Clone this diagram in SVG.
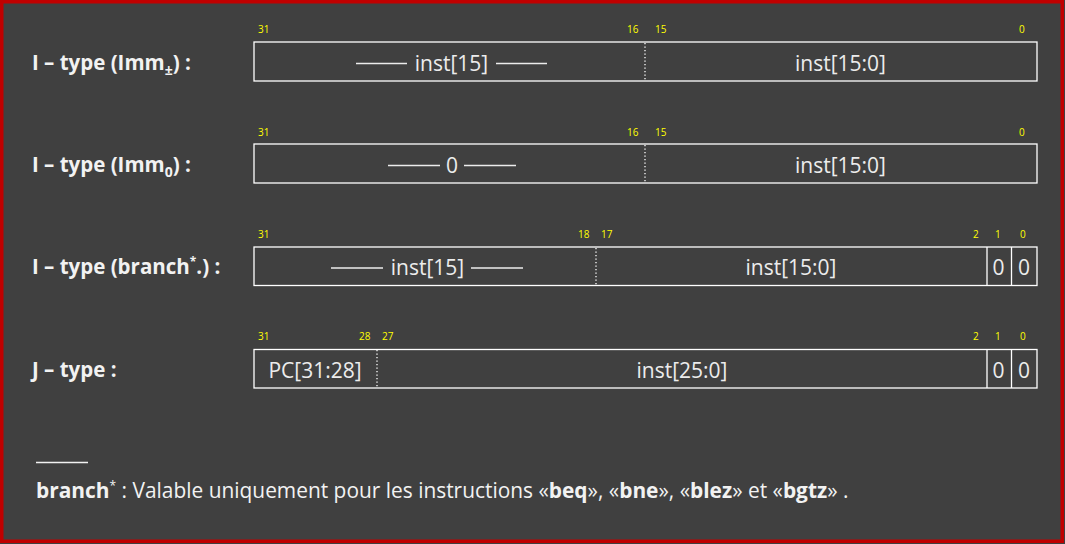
<svg xmlns="http://www.w3.org/2000/svg" width="1065" height="544" viewBox="0 0 1065 544">
<style>
.lbl{font-family:"Open Sans","Liberation Sans",sans-serif;font-weight:bold;font-size:20.5px;fill:#f2f2f2}
.bit{font-family:"Open Sans","Liberation Sans",sans-serif;font-size:10px;fill:#ffff00}
.fld{font-family:"Open Sans","Liberation Sans",sans-serif;font-size:21px;fill:#ececec;text-anchor:middle}
.box{fill:none;stroke:#ffffff;stroke-width:1.3}
.sep{stroke:#ffffff;stroke-width:1.3}
.dot{stroke:#ffffff;stroke-width:1.3;stroke-dasharray:1.3 2.2}
.dash{stroke:#ececec;stroke-width:1.3}
.note{font-family:"Open Sans","Liberation Sans",sans-serif;font-size:20.9px;fill:#f2f2f2}
</style>
<rect x="0" y="0" width="1065" height="544" fill="#404040"/>
<rect x="1.75" y="1.75" width="1060.5" height="539.5" fill="none" stroke="#c00000" stroke-width="3.5"/>

<g id="row-imm-signed">
  <text class="lbl" x="32" y="70">I – type (Imm<tspan font-size="14" dy="5">±</tspan><tspan dy="-5">) :</tspan></text>
  <text class="bit" x="258" y="33">31</text>
  <text class="bit" x="627" y="33">16</text>
  <text class="bit" x="655" y="33">15</text>
  <text class="bit" x="1019" y="33">0</text>
  <rect class="box" x="254" y="42" width="783" height="39"/>
  <line class="dot" x1="645" y1="43" x2="645" y2="81"/>
  <line class="dash" x1="356" y1="63.5" x2="407" y2="63.5"/>
  <text class="fld" x="451.5" y="70.5">inst[15]</text>
  <line class="dash" x1="496" y1="63.5" x2="547" y2="63.5"/>
  <text class="fld" x="840.5" y="70.5">inst[15:0]</text>
</g>

<g id="row-imm-zero">
  <text class="lbl" x="32" y="172">I – type (Imm<tspan font-size="14" dy="5">0</tspan><tspan dy="-5">) :</tspan></text>
  <text class="bit" x="258" y="135.5">31</text>
  <text class="bit" x="627" y="135.5">16</text>
  <text class="bit" x="655" y="135.5">15</text>
  <text class="bit" x="1019" y="135.5">0</text>
  <rect class="box" x="254" y="144" width="783" height="39"/>
  <line class="dot" x1="645" y1="145" x2="645" y2="183"/>
  <line class="dash" x1="388" y1="165.5" x2="440" y2="165.5"/>
  <text class="fld" x="452" y="172.5">0</text>
  <line class="dash" x1="464" y1="165.5" x2="516" y2="165.5"/>
  <text class="fld" x="840.5" y="172.5">inst[15:0]</text>
</g>

<g id="row-branch">
  <text class="lbl" x="32" y="274">I – type (branch<tspan font-size="12" dy="-8">*</tspan><tspan dy="8">.) :</tspan></text>
  <text class="bit" x="258" y="237.5">31</text>
  <text class="bit" x="578" y="237.5">18</text>
  <text class="bit" x="601" y="237.5">17</text>
  <text class="bit" x="973" y="237.5">2</text>
  <text class="bit" x="995" y="237.5">1</text>
  <text class="bit" x="1020" y="237.5">0</text>
  <rect class="box" x="254" y="247" width="783" height="38.5"/>
  <line class="dot" x1="596" y1="248" x2="596" y2="285"/>
  <line class="sep" x1="987" y1="247" x2="987" y2="285.5"/>
  <line class="sep" x1="1011.5" y1="247" x2="1011.5" y2="285.5"/>
  <line class="dash" x1="331" y1="268" x2="383" y2="268"/>
  <text class="fld" x="427.5" y="275">inst[15]</text>
  <line class="dash" x1="471" y1="268" x2="523" y2="268"/>
  <text class="fld" x="791" y="275">inst[15:0]</text>
  <text class="fld" x="998.5" y="275">0</text>
  <text class="fld" x="1024" y="275">0</text>
</g>

<g id="row-jtype">
  <text class="lbl" x="32" y="376.5">J – type :</text>
  <text class="bit" x="258" y="339.5">31</text>
  <text class="bit" x="359" y="339.5">28</text>
  <text class="bit" x="382" y="339.5">27</text>
  <text class="bit" x="973" y="339.5">2</text>
  <text class="bit" x="995" y="339.5">1</text>
  <text class="bit" x="1020" y="339.5">0</text>
  <rect class="box" x="254" y="349.5" width="783" height="38.5"/>
  <line class="dot" x1="377" y1="350" x2="377" y2="388"/>
  <line class="sep" x1="987" y1="349.5" x2="987" y2="388"/>
  <line class="sep" x1="1011.5" y1="349.5" x2="1011.5" y2="388"/>
  <text class="fld" x="315" y="377.5">PC[31:28]</text>
  <text class="fld" x="682" y="377.5">inst[25:0]</text>
  <text class="fld" x="998.5" y="377.5">0</text>
  <text class="fld" x="1024" y="377.5">0</text>
</g>

<g id="footnote">
  <line x1="36" y1="462.5" x2="88" y2="462.5" stroke="#f2f2f2" stroke-width="1.3"/>
  <text class="note" x="36" y="498"><tspan font-weight="bold">branch</tspan><tspan font-size="12" dy="-8">*</tspan><tspan dy="8"> : Valable uniquement pour les instructions «</tspan><tspan font-weight="bold">beq</tspan>», «<tspan font-weight="bold">bne</tspan>», «<tspan font-weight="bold">blez</tspan>» et «<tspan font-weight="bold">bgtz</tspan>» .</text>
</g>
</svg>
